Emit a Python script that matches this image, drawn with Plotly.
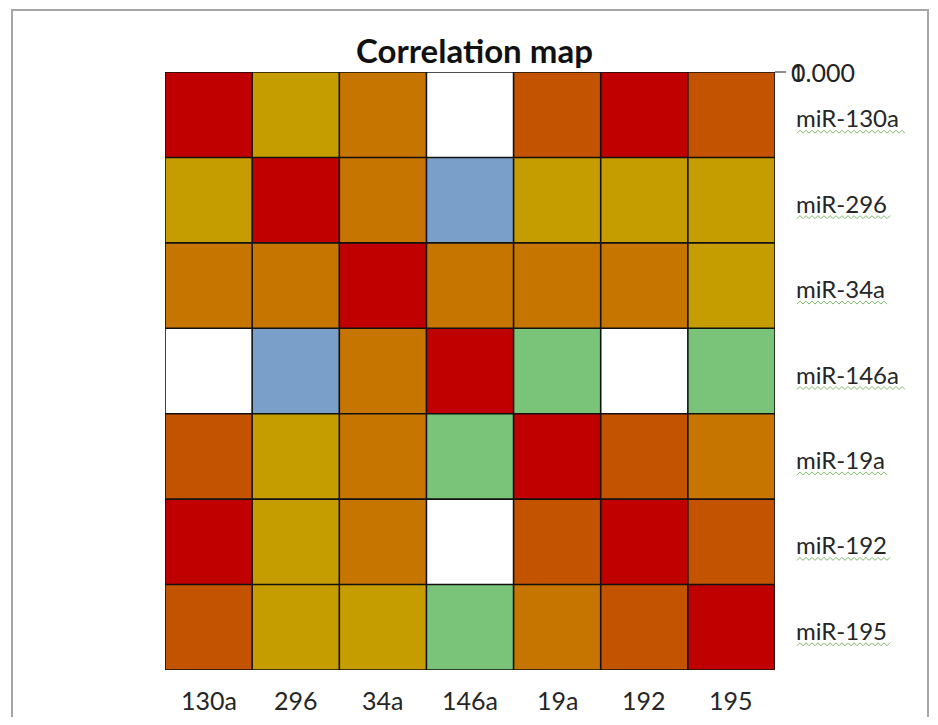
import numpy as np
import plotly.graph_objects as go

genes = ["130a", "296", "34a", "146a", "19a", "192", "195"]
row_labels = ["miR-130a", "miR-296", "miR-34a", "miR-146a", "miR-19a", "miR-192", "miR-195"]

r_130a = [1.00, 0.40, 0.60, 0.00, 0.80, 0.95, 0.80]
r_296  = [0.40, 1.00, 0.60, -0.40, 0.40, 0.40, 0.40]
r_34a  = [0.60, 0.60, 1.00, 0.60, 0.60, 0.60, 0.40]
r_146a = [0.00, -0.40, 0.60, 1.00, -0.20, 0.00, -0.20]
r_19a  = [0.80, 0.40, 0.60, -0.20, 1.00, 0.80, 0.60]
r_192  = [0.95, 0.40, 0.60, 0.00, 0.80, 1.00, 0.80]
r_195  = [0.80, 0.40, 0.40, -0.20, 0.60, 0.80, 1.00]

bin_edges = [-0.3, -0.1, 0.2, 0.5, 0.7, 0.9]
bin_colors = ["#7A9FC8", "#7AC47A", "#FFFFFF", "#C59D00", "#C67500", "#C45300", "#C00000"]

Z = np.array([r_130a, r_296, r_34a, r_146a, r_19a, r_192, r_195])
idx = np.digitize(Z, bin_edges)

n = len(bin_colors)
cs = []
for i, c in enumerate(bin_colors):
    cs.append([i / n, c])
    cs.append([(i + 1) / n, c])

fig = go.Figure(go.Heatmap(
    z=idx, x=list(range(7)), y=list(range(7)),
    colorscale=cs, zmin=-0.5, zmax=n - 0.5, showscale=False,
    customdata=Z, hovertemplate="%{customdata:.2f}<extra></extra>",
))

OFF = 8  # page body margin
W, H = 938 - 2 * OFF, 725 - 2 * OFF
# target plot area in page pixels
PX0, PX1, PY0, PY1 = 165, 775, 72, 670
L, T = PX0 - OFF, PY0 - OFF
R = W - (PX1 - OFF)
B = H - (PY1 - OFF)
pw, ph = PX1 - PX0, PY1 - PY0

def px(xp):
    return (xp - PX0) / pw

def py(yp):
    return (PY1 - yp) / ph

FONT = "Lato, Carlito, sans-serif"
shapes = []
# grid lines
for k in range(8):
    shapes.append(dict(type="line", xref="x", yref="y", x0=k - 0.5, x1=k - 0.5, y0=-0.5, y1=6.5,
                       line=dict(color="#111111", width=1.6)))
    shapes.append(dict(type="line", xref="x", yref="y", y0=k - 0.5, y1=k - 0.5, x0=-0.5, x1=6.5,
                       line=dict(color="#111111", width=1.6)))
# tick at top right
shapes.append(dict(type="line", xref="paper", yref="paper", x0=1.0, x1=px(786), y0=1.0, y1=1.0,
                   line=dict(color="#404040", width=1.2)))
# outer frame
shapes.append(dict(type="rect", xref="paper", yref="paper", x0=px(12), x1=px(928), y0=py(740), y1=py(10),
                   line=dict(color="#A6A6A6", width=2), fillcolor="rgba(0,0,0,0)", layer="below"))

annotations = [
    dict(text="<b>Correlation map</b>", xref="paper", yref="paper", x=px(474), y=py(50),
         xanchor="center", yanchor="middle",
         showarrow=False, font=dict(family=FONT, size=33, color="#111111")),
    dict(text="0.000", xref="paper", yref="paper", x=px(789), y=py(72), xanchor="left", yanchor="middle",
         showarrow=False, font=dict(family=FONT, size=25, color="#222222")),
    dict(text="1", xref="paper", yref="paper", x=px(789), y=py(72), xanchor="left", yanchor="middle",
         showarrow=False, font=dict(family=FONT, size=23, color="#222222")),
]
label_widths = [108, 93, 91, 108, 91, 93, 93]
for i, lab in enumerate(row_labels):
    annotations.append(dict(text=lab, xref="paper", yref="y", x=px(794), y=i, yshift=-3,
                            xanchor="left", yanchor="middle", showarrow=False,
                            font=dict(family=FONT, size=24, color="#262626")))
    # spell-check style squiggle under the label
    w = label_widths[i]
    pts = []
    for j in range(0, w // 3 + 1):
        pts.append(f"{j*3},{-17 + (1.5 if j % 2 else -1.5)}")
    shapes.append(dict(type="path", xref="paper", yref="y", xsizemode="pixel", ysizemode="pixel",
                       xanchor=px(797), yanchor=i, path="M " + " L ".join(pts),
                       line=dict(color="#7DBA6A", width=1)))
for i, g in enumerate(genes):
    annotations.append(dict(text=g, xref="x", yref="paper", x=i, y=py(700),
                            xanchor="center", yanchor="middle",
                            showarrow=False, font=dict(family=FONT, size=25, color="#262626")))

fig.update_layout(
    width=W, height=H,
    margin=dict(l=L, r=R, t=T, b=B),
    paper_bgcolor="white", plot_bgcolor="white",
    xaxis=dict(visible=False, range=[-0.5, 6.5]),
    yaxis=dict(visible=False, range=[6.5, -0.5]),
    shapes=shapes, annotations=annotations,
)

fig.write_html("out.html")
